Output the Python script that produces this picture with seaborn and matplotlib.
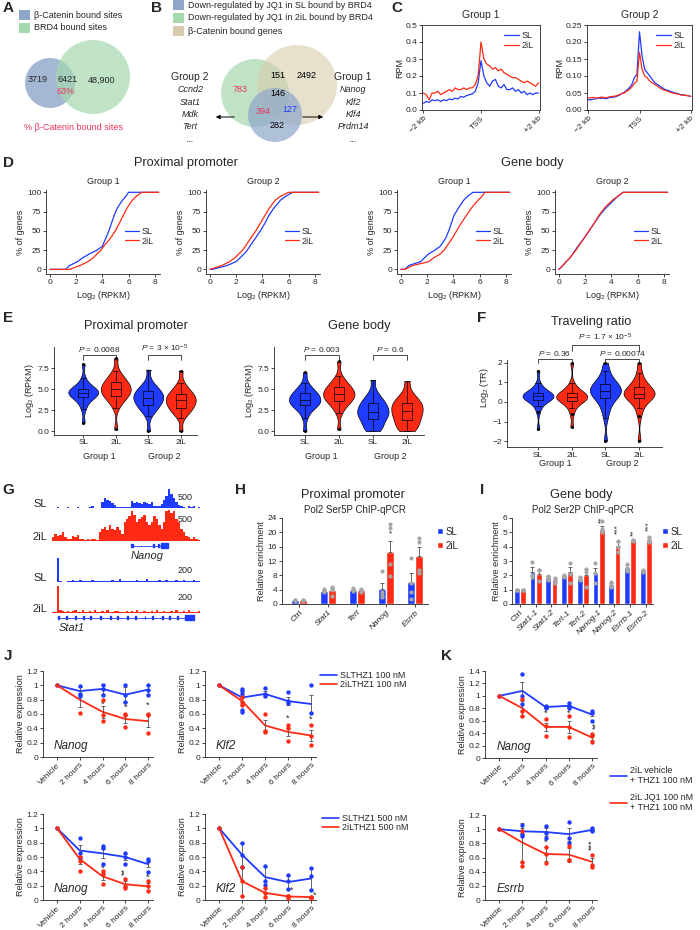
import numpy as np
import pandas as pd
import seaborn as sns
import matplotlib.pyplot as plt
from matplotlib.patches import Circle, Rectangle
from matplotlib.lines import Line2D
from matplotlib.transforms import blended_transform_factory

BLUE = '#1f3bff'
RED = '#ff2a14'
DOT = '#a6a6a6'
PINK = '#e8365d'
VENN_BLUE = '#8ea6ca'
VENN_GREEN = '#a6d8ad'
VENN_TAN = '#d6ccad'
PAL = {'SL': BLUE, '2iL': RED}

# A / B venn counts
venn_a = ['3719', '6421', '48,900']
venn_a_pct = '63%'
venn_b = {'green': '783', 'green_tan': '151', 'tan': '2492', 'all': '146',
          'blue_green': '394', 'blue_tan': '127', 'blue': '282'}
group2_genes = ['Ccnd2', 'Stat1', 'Mdk', 'Tert', '...']
group1_genes = ['Nanog', 'Klf2', 'Klf4', 'Prdm14', '...']

# C metagene profiles (RPM), -2 kb .. +2 kb
c_kb = np.round(np.arange(-2, 2.01, 0.1), 1)
c_g1_sl = [0.04, 0.05, 0.045, 0.06, 0.055, 0.06, 0.05, 0.06, 0.055, 0.065, 0.06, 0.07, 0.065, 0.08,
           0.075, 0.085, 0.09, 0.095, 0.11, 0.16, 0.29, 0.2, 0.16, 0.14, 0.17, 0.18, 0.14, 0.13, 0.15,
           0.12, 0.12, 0.13, 0.11, 0.12, 0.1, 0.11, 0.09, 0.1, 0.09, 0.1, 0.1]
c_g1_2il = [0.1, 0.09, 0.06, 0.1, 0.1, 0.11, 0.09, 0.1, 0.11, 0.12, 0.11, 0.13, 0.12, 0.12, 0.13,
            0.12, 0.13, 0.13, 0.15, 0.2, 0.40, 0.3, 0.27, 0.26, 0.24, 0.25, 0.23, 0.24, 0.22, 0.21,
            0.2, 0.19, 0.19, 0.18, 0.17, 0.16, 0.17, 0.16, 0.15, 0.14, 0.16]
c_g2_sl = [0.03, 0.03, 0.032, 0.033, 0.035, 0.034, 0.035, 0.033, 0.036, 0.037, 0.038, 0.04, 0.043,
           0.048, 0.052, 0.058, 0.065, 0.075, 0.095, 0.105, 0.23, 0.16, 0.12, 0.11, 0.1, 0.09, 0.08,
           0.075, 0.07, 0.065, 0.06, 0.058, 0.055, 0.052, 0.05, 0.048, 0.045, 0.045, 0.043, 0.042, 0.04]
c_g2_2il = [0.035, 0.036, 0.037, 0.035, 0.036, 0.038, 0.037, 0.036, 0.038, 0.04, 0.04, 0.042, 0.045,
            0.048, 0.05, 0.055, 0.06, 0.068, 0.078, 0.085, 0.17, 0.12, 0.1, 0.095, 0.085, 0.08,
            0.075, 0.07, 0.065, 0.06, 0.058, 0.055, 0.052, 0.05, 0.048, 0.047, 0.045, 0.043, 0.043,
            0.042, 0.04]

# D cumulative curves: log2 RPKM reached at each % of genes
cdf_pct = [0, 5, 10, 15, 20, 25, 30, 40, 50, 60, 70, 80, 90, 95, 100]
d_prox_g1_sl = [1.2, 1.5, 2.1, 2.5, 3.0, 3.6, 4.0, 4.25, 4.5, 4.7, 4.9, 5.15, 5.55, 5.8, 6.0]
d_prox_g1_2il = [1.5, 2.3, 2.9, 3.3, 3.6, 3.9, 4.1, 4.6, 5.0, 5.3, 5.6, 5.9, 6.3, 6.6, 7.0]
d_prox_g2_sl = [0.2, 1.3, 2.0, 2.3, 2.6, 2.85, 3.05, 3.45, 3.85, 4.2, 4.5, 4.9, 5.4, 5.8, 6.3]
d_prox_g2_2il = [0.0, 0.9, 1.5, 1.9, 2.2, 2.5, 2.7, 3.1, 3.5, 3.85, 4.2, 4.55, 5.0, 5.4, 6.0]
d_body_g1_sl = [0.3, 0.6, 1.5, 1.8, 2.1, 2.6, 3.0, 3.4, 3.65, 3.85, 4.05, 4.4, 4.8, 5.1, 5.5]
d_body_g1_2il = [0.3, 0.9, 2.1, 2.5, 3.0, 3.3, 3.5, 3.9, 4.25, 4.6, 5.0, 5.4, 5.9, 6.2, 6.4]
d_body_g2_sl = [0.0, 0.3, 0.55, 0.85, 1.05, 1.25, 1.45, 1.9, 2.3, 2.7, 3.1, 3.6, 4.2, 4.5, 4.9]
d_body_g2_2il = [0.0, 0.3, 0.55, 0.85, 1.05, 1.3, 1.5, 1.9, 2.3, 2.7, 3.05, 3.5, 4.1, 4.5, 4.9]

# E / F violins: 5% quantiles of each distribution
e_prox = [
    [1.0, 2.6, 3.2, 3.6, 3.85, 4.0, 4.15, 4.3, 4.4, 4.5, 4.55, 4.65, 4.75, 4.85, 4.95, 5.05, 5.2, 5.4, 5.7, 6.3, 8.0],
    [0.2, 2.8, 3.4, 3.8, 4.0, 4.15, 4.35, 4.55, 4.7, 4.85, 5.0, 5.15, 5.3, 5.45, 5.6, 5.85, 6.05, 6.3, 6.6, 7.1, 8.7],
    [0.0, 1.8, 2.4, 2.7, 2.9, 3.05, 3.3, 3.5, 3.7, 3.8, 3.95, 4.1, 4.25, 4.4, 4.55, 4.75, 4.95, 5.15, 5.4, 5.9, 7.3],
    [0.0, 1.6, 2.1, 2.4, 2.6, 2.75, 2.95, 3.15, 3.35, 3.5, 3.65, 3.8, 3.95, 4.1, 4.25, 4.45, 4.65, 4.9, 5.2, 5.7, 7.2]]
e_body = [
    [0.0, 1.6, 2.3, 2.7, 2.9, 3.05, 3.2, 3.35, 3.5, 3.6, 3.75, 3.9, 4.05, 4.2, 4.35, 4.5, 4.7, 4.9, 5.2, 5.7, 7.0],
    [0.2, 2.2, 2.8, 3.2, 3.45, 3.6, 3.8, 3.95, 4.1, 4.25, 4.4, 4.55, 4.7, 4.85, 5.0, 5.2, 5.4, 5.65, 5.95, 6.5, 8.3],
    [0.0, 0.2, 0.5, 0.8, 1.1, 1.4, 1.6, 1.8, 2.0, 2.15, 2.3, 2.5, 2.7, 2.9, 3.1, 3.3, 3.55, 3.8, 4.15, 4.7, 6.1],
    [0.0, 0.2, 0.5, 0.8, 1.05, 1.3, 1.55, 1.8, 2.0, 2.2, 2.4, 2.6, 2.8, 3.0, 3.2, 3.4, 3.6, 3.85, 4.2, 4.7, 5.9]]
f_tr = [
    [-1.4, -0.5, -0.2, -0.05, 0.05, 0.1, 0.15, 0.2, 0.24, 0.27, 0.29, 0.32, 0.35, 0.38, 0.42, 0.46, 0.52, 0.6, 0.72, 0.95, 1.6],
    [-1.3, -0.6, -0.3, -0.1, 0.0, 0.05, 0.1, 0.15, 0.19, 0.22, 0.25, 0.29, 0.32, 0.36, 0.4, 0.45, 0.52, 0.6, 0.72, 0.95, 2.0],
    [-2.0, -0.8, -0.4, -0.15, 0.05, 0.2, 0.3, 0.38, 0.45, 0.5, 0.55, 0.62, 0.68, 0.75, 0.82, 0.9, 1.0, 1.12, 1.3, 1.6, 2.0],
    [-2.0, -0.7, -0.3, -0.1, 0.1, 0.2, 0.26, 0.31, 0.35, 0.38, 0.42, 0.47, 0.52, 0.58, 0.65, 0.75, 0.85, 0.98, 1.15, 1.45, 2.0]]
violin_pos = ['G1 SL', 'G1 2iL', 'G2 SL', 'G2 2iL']
violin_cond = ['SL', '2iL', 'SL', '2iL']

# G browser tracks (binned signal)
nanog_sl = [12, 10, 15, 8, 12, 10, 14, 10, 8, 12, 15, 10, 12, 8, 10, 14, 60, 10, 8, 12,
            150, 250, 200, 180, 120, 80, 20, 15, 20, 30, 15, 20, 180, 120, 140, 130, 110, 150, 130, 90,
            160, 40, 50, 60, 90, 200, 300, 480, 350, 250, 150, 80, 50, 30, 10, 40, 20, 40, 10, 20]
nanog_2il = [60, 120, 80, 100, 150, 60, 40, 30, 80, 60, 100, 40, 30, 20, 30, 20, 40, 30, 20, 150,
             200, 230, 180, 250, 200, 170, 220, 180, 120, 300, 350, 400, 480, 420, 300, 350, 380, 420, 300, 250,
             300, 400, 350, 250, 200, 300, 480, 500, 450, 480, 350, 300, 200, 150, 80, 60, 40, 60, 30, 20]
stat1_sl = [3, 3, 200, 5, 4, 3, 12, 8, 14, 10, 6, 18, 8, 10, 6, 12, 20, 5, 10, 8,
            6, 12, 5, 8, 15, 10, 6, 25, 8, 5, 10, 12, 8, 6, 20, 10, 6, 8, 22, 6,
            10, 12, 8, 15, 6, 10, 20, 8, 12, 6, 18, 10, 8, 14, 6, 12, 10, 20, 8, 6]
stat1_2il = [4, 5, 190, 20, 12, 8, 15, 10, 12, 18, 8, 10, 22, 8, 6, 12, 10, 18, 6, 10,
             14, 8, 20, 6, 10, 12, 16, 8, 10, 6, 14, 10, 12, 8, 20, 6, 10, 14, 8, 10,
             12, 6, 18, 10, 8, 12, 6, 10, 14, 8, 20, 10, 6, 12, 8, 24, 10, 6, 8, 14]
nanog_span = (31.6, 46.6)
nanog_exons = [(31.5, 0.8), (40.4, 0.6), (42.4, 0.5)]
nanog_utr = [(43.5, 3.1)]
stat1_span = (2.0, 57.0)
stat1_exons = [(x, 0.4) for x in [2, 5, 9, 12, 15, 19, 23, 26, 30, 33, 37, 40, 44, 47, 50]]
stat1_utr = [(53.5, 3.5)]

# H ChIP-qPCR (Pol2 Ser5P)
h_cats = ['Ctrl', 'Stat1', 'Tert', 'Nanog', 'Esrrb']
h_sl = [1.0, 3.7, 4.0, 4.2, 6.2]
h_sl_err = [0.1, 0.3, 0.3, 1.7, 2.5]
h_2il = [1.0, 3.8, 3.8, 14.5, 13.5]
h_2il_err = [0.1, 0.8, 0.3, 3.2, 2.5]
h_sl_reps = [[1.0, 1.0, 0.9], [4.2, 3.6, 3.3], [4.4, 4.0, 3.6], [9.2, 3.4, 2.5, 2.0], [12.8, 5.8, 3.4, 1.4]]
h_2il_reps = [[1.0, 1.0, 0.9], [4.8, 3.8, 2.2], [4.3, 3.7, 3.4], [22.3, 21.2, 11.2, 7.8], [18.4, 17.3, 9.5, 8.6]]
h_stars = [(3, 19.5, '*')]

# I ChIP-qPCR (Pol2 Ser2P)
i_cats = ['Ctrl', 'Stat1-1', 'Stat1-2', 'Tert-1', 'Tert-2', 'Nanog-1', 'Nanog-2', 'Esrrb-1', 'Esrrb-2']
i_sl = [1.0, 2.25, 1.8, 1.95, 1.75, 2.15, 1.35, 2.5, 2.3]
i_sl_err = [0.05, 0.3, 0.15, 0.1, 0.1, 0.35, 0.15, 0.25, 0.1]
i_2il = [1.0, 2.1, 1.65, 2.2, 2.0, 5.15, 4.05, 4.45, 4.5]
i_2il_err = [0.05, 0.3, 0.15, 0.4, 0.45, 0.3, 0.25, 0.05, 0.15]
i_sl_reps = [[1, 1, 1], [2.9, 2.0, 1.9], [1.95, 1.85, 1.7], [2.0, 1.95, 1.9], [1.85, 1.75, 1.65],
             [2.85, 2.15, 1.5], [1.55, 1.35, 1.2], [2.8, 2.5, 2.3], [2.4, 2.3, 2.25]]
i_2il_reps = [[1, 1, 1], [2.4, 2.4, 1.6], [1.8, 1.5, 1.6], [2.85, 2.1, 1.45], [2.45, 2.2, 1.2],
              [5.8, 5.2, 5.0], [4.4, 4.0, 3.6], [4.5, 4.45, 4.4], [4.7, 4.5, 4.35]]
i_stars = [(5, 5.85, '**'), (6, 5.2, '***'), (7, 5.0, '**'), (8, 5.45, '***')]

# J / K time courses (relative expression)
times = ['Vehicle', '2 hours', '4 hours', '6 hours', '8 hours']
j1 = dict(gene='Nanog',
          sl=[1.0, 0.92, 0.95, 0.87, 0.94], sl_err=[0, 0.05, 0.07, 0.1, 0.06],
          sl_reps=[[1.0], [0.99, 0.88, 0.85], [1.0, 0.95, 0.86], [1.0, 0.86, 0.77], [1.0, 0.94, 0.87]],
          il=[1.0, 0.8, 0.63, 0.53, 0.5], il_err=[0, 0.1, 0.08, 0.05, 0.08],
          il_reps=[[1.0], [0.62], [0.8, 0.58, 0.5], [0.6, 0.58, 0.42], [0.6, 0.58, 0.33]],
          stars=[(2, 0.74, '*'), (3, 0.7, '*'), (4, 0.72, '*')])
j2 = dict(gene='Klf2',
          sl=[1.0, 0.83, 0.88, 0.78, 0.74], sl_err=[0, 0.05, 0.04, 0.06, 0.13],
          sl_reps=[[1.0], [0.95, 0.92, 0.88, 0.65, 0.63], [0.96, 0.88, 0.85], [0.91, 0.78, 0.75], [1.0, 0.61]],
          il=[1.0, 0.78, 0.44, 0.35, 0.3], il_err=[0, 0.05, 0.07, 0.06, 0.07],
          il_reps=[[1.0], [0.84, 0.77, 0.72], [0.6, 0.36, 0.35], [0.45, 0.4, 0.22], [0.44, 0.3, 0.17]],
          stars=[(3, 0.54, '*'), (4, 0.52, '*')])
j3 = dict(gene='Nanog',
          sl=[1.0, 0.69, 0.65, 0.6, 0.5], sl_err=[0, 0.08, 0.06, 0.04, 0.04],
          sl_reps=[[1.0], [0.87, 0.65, 0.58], [0.75, 0.72, 0.5], [0.66, 0.6, 0.5], [0.57, 0.55, 0.39]],
          il=[1.0, 0.57, 0.33, 0.22, 0.19], il_err=[0, 0.07, 0.05, 0.04, 0.05],
          il_reps=[[1.0], [0.6, 0.55, 0.41], [0.4, 0.36, 0.22], [0.29, 0.2, 0.17], [0.26, 0.19, 0.12]],
          stars=[(2, 0.44, '*'), (3, 0.4, '**'), (4, 0.32, '*')])
j4 = dict(gene='Klf2',
          sl=[1.0, 0.63, 0.32, 0.25, 0.3], sl_err=[0, 0.17, 0.15, 0.1, 0.15],
          sl_reps=[[1.0], [0.8, 0.63, 0.46], [0.47, 0.27, 0.21], [0.35, 0.26, 0.16], [0.45, 0.33, 0.14]],
          il=[1.0, 0.26, 0.1, 0.05, 0.04], il_err=[0, 0.2, 0.07, 0.01, 0.01],
          il_reps=[[1.0], [0.46, 0.26, 0.06], [0.17, 0.1, 0.04], [0.06, 0.05, 0.03], [0.04, 0.04, 0.03]],
          stars=[(3.15, 0.13, '*'), (4.15, 0.07, '*')])
k1 = dict(gene='Nanog',
          sl=[1.0, 1.08, 0.82, 0.84, 0.7], sl_err=[0, 0.14, 0.01, 0.02, 0.03],
          sl_reps=[[1.0], [1.35, 1.0, 0.87], [0.83, 0.82, 0.8], [0.88, 0.84, 0.8], [0.76, 0.73, 0.6]],
          il=[1.0, 0.8, 0.5, 0.5, 0.33], il_err=[0, 0.12, 0.07, 0.1, 0.04],
          il_reps=[[1.0], [0.95, 0.75, 0.67], [0.63, 0.52, 0.35], [0.67, 0.5, 0.34], [0.38, 0.35, 0.26]],
          stars=[(2, 0.72, '*'), (3, 0.72, '*'), (4.2, 0.52, '**')])
k2 = dict(gene='Esrrb',
          sl=[1.0, 0.97, 0.96, 0.93, 0.99], sl_err=[0, 0.04, 0.05, 0.09, 0.02],
          sl_reps=[[1.0], [1.06, 0.93, 0.9], [1.05, 0.95, 0.88], [1.1, 0.88, 0.8], [1.01, 0.99, 0.97]],
          il=[1.0, 0.81, 0.65, 0.64, 0.54], il_err=[0, 0.28, 0.1, 0.1, 0.05],
          il_reps=[[1.0], [0.97, 0.53, 0.48], [0.75, 0.65, 0.52], [0.76, 0.57, 0.56], [0.63, 0.5, 0.47]],
          stars=[(2, 0.82, '*'), (4, 0.78, '***')])

sns.set_style('ticks')
plt.rcParams['font.family'] = ['Liberation Sans', 'DejaVu Sans']
plt.rcParams.update({
    'font.size': 6, 'axes.linewidth': 0.6, 'axes.facecolor': 'none',
    'xtick.major.size': 2, 'ytick.major.size': 2, 'xtick.major.width': 0.6, 'ytick.major.width': 0.6,
    'xtick.major.pad': 1.5, 'ytick.major.pad': 1.5, 'xtick.labelsize': 6, 'ytick.labelsize': 6,
    'axes.labelsize': 6.5, 'axes.labelpad': 2,
    'mathtext.fontset': 'custom', 'mathtext.rm': 'Liberation Sans',
    'mathtext.it': 'Liberation Sans:italic', 'mathtext.default': 'regular'})

W, H = 700, 930
fig = plt.figure(figsize=(7, 9.3), dpi=100)
ov = fig.add_axes([0, 0, 1, 1])
ov.set_xlim(0, W)
ov.set_ylim(H, 0)
ov.axis('off')


def add_ax(l, t, r, b):
    return fig.add_axes([l / W, 1 - b / H, (r - l) / W, (b - t) / H])


def txt(x, y, s, **kw):
    kw.setdefault('ha', 'center')
    kw.setdefault('va', 'center')
    ov.text(x, y, s, **kw)


def despine(ax):
    ax.spines['top'].set_visible(False)
    ax.spines['right'].set_visible(False)


for letter, x, y in [('A', 8, 8), ('B', 157, 8), ('C', 397, 8), ('D', 8, 163), ('E', 8, 318),
                     ('F', 482, 318), ('G', 8, 490), ('H', 240, 490), ('I', 482, 490),
                     ('J', 8, 656), ('K', 447, 656)]:
    txt(x, y, letter, fontsize=11, fontweight='bold')

# ---- A
for y, col, lab in [(15, VENN_BLUE, 'β-Catenin bound sites'), (28, VENN_GREEN, 'BRD4 bound sites')]:
    ov.add_patch(Rectangle((19, y - 5), 11, 10, fc=col, ec='none'))
    txt(34, y, lab, ha='left', fontsize=6.5)
ov.add_patch(Circle((50, 83), 25, fc=VENN_BLUE, ec='none', alpha=0.8))
ov.add_patch(Circle((93, 77), 37, fc=VENN_GREEN, ec='none', alpha=0.7))
txt(38, 80, venn_a[0], fontsize=6.5)
txt(68, 80, venn_a[1], fontsize=6.5)
txt(102, 80, venn_a[2], fontsize=6.5)
txt(66, 91, venn_a_pct, fontsize=6.5, color=PINK)
txt(73, 128, '% β-Catenin bound sites', fontsize=6.5, color=PINK)

# ---- B
for y, col, lab in [(5, VENN_BLUE, 'Down-regulated by JQ1 in SL bound by BRD4'),
                    (18, VENN_GREEN, 'Down-regulated by JQ1 in 2iL bound by BRD4'),
                    (31, VENN_TAN, 'β-Catenin bound genes')]:
    ov.add_patch(Rectangle((173, y - 5), 11, 10, fc=col, ec='none'))
    txt(188, y, lab, ha='left', fontsize=6.5)
ov.add_patch(Circle((255, 93), 34, fc=VENN_GREEN, ec='none', alpha=0.7))
ov.add_patch(Circle((297, 85), 40, fc=VENN_TAN, ec='none', alpha=0.6))
ov.add_patch(Circle((275, 115), 27, fc=VENN_BLUE, ec='none', alpha=0.7))
for key, x, y, col in [('green', 240, 90, PINK), ('green_tan', 278, 75, 'black'), ('tan', 307, 76, 'black'),
                       ('all', 278, 94, 'black'), ('blue_green', 263, 112, PINK),
                       ('blue_tan', 290, 109, BLUE), ('blue', 277, 126, 'black')]:
    txt(x, y, venn_b[key], fontsize=6.5, color=col)
ov.annotate('', xy=(213, 117), xytext=(237, 117), arrowprops=dict(arrowstyle='-|>', lw=0.7, color='k', mutation_scale=6))
ov.annotate('', xy=(326, 117), xytext=(300, 117), arrowprops=dict(arrowstyle='-|>', lw=0.7, color='k', mutation_scale=6))
txt(190, 77, 'Group 2', fontsize=7.5)
txt(353, 77, 'Group 1', fontsize=7.5)
for k, (g2, g1) in enumerate(zip(group2_genes, group1_genes)):
    txt(190, 90 + 12.3 * k, g2, fontsize=6.5, style='italic')
    txt(353, 90 + 12.3 * k, g1, fontsize=6.5, style='italic')

# ---- C
for (l, r), sl, il, ymax, step, title in [((422, 540), c_g1_sl, c_g1_2il, 0.5, 0.1, 'Group 1'),
                                           ((587, 692), c_g2_sl, c_g2_2il, 0.25, 0.05, 'Group 2')]:
    ax = add_ax(l, 25, r, 110)
    df = pd.DataFrame({'kb': list(c_kb) * 2, 'rpm': sl + il, 'cond': ['SL'] * len(c_kb) + ['2iL'] * len(c_kb)})
    sns.lineplot(data=df, x='kb', y='rpm', hue='cond', hue_order=['SL', '2iL'], palette=PAL,
                 lw=0.9, estimator=None, ax=ax)
    ax.set_xlim(-2.05, 2.05)
    ax.set_ylim(0, ymax)
    ax.set_yticks(np.round(np.arange(0, ymax + 1e-9, step), 2))
    ax.set_yticklabels(['%.1f' % v if step == 0.1 else '%.2f' % v for v in ax.get_yticks()])
    ax.set_xticks([-2, 0, 2])
    ax.set_xticklabels(['−2 kb', 'TSS', '+2 kb'], rotation=45, ha='right', rotation_mode='anchor')
    ax.set_xlabel('')
    ax.set_ylabel('RPM', labelpad=1)
    ax.legend(loc='upper right', frameon=False, fontsize=6.5, handlelength=1.6, borderaxespad=0.3,
              labelspacing=0.1, handletextpad=0.3, title=None)
    txt((l + r) / 2, 15, title, fontsize=7.5)

# ---- D
txt(186, 163, 'Proximal promoter', fontsize=9.2)
txt(532, 163, 'Gene body', fontsize=9.2)
d_sets = [(46, d_prox_g1_sl, d_prox_g1_2il, 'Group 1'), (206, d_prox_g2_sl, d_prox_g2_2il, 'Group 2'),
          (397, d_body_g1_sl, d_body_g1_2il, 'Group 1'), (555, d_body_g2_sl, d_body_g2_2il, 'Group 2')]
for l, sl, il, title in d_sets:
    ax = add_ax(l, 190, l + 114, 274)
    n = len(cdf_pct) + 2
    df = pd.DataFrame({'x': [0] + sl + [8.3] + [0] + il + [8.3],
                       'y': ([0] + cdf_pct + [100]) * 2,
                       'cond': ['SL'] * n + ['2iL'] * n})
    sns.lineplot(data=df, x='x', y='y', hue='cond', hue_order=['SL', '2iL'], palette=PAL,
                 sort=False, estimator=None, lw=0.9, ax=ax)
    ax.set_xlim(-0.3, 8.4)
    ax.set_ylim(-6, 103)
    ax.set_xticks([0, 2, 4, 6, 8])
    ax.set_yticks([0, 25, 50, 75, 100])
    ax.set_xlabel('Log$_2$ (RPKM)')
    ax.set_ylabel('% of genes', labelpad=1)
    despine(ax)
    ax.legend(loc='center right', bbox_to_anchor=(1.02, 0.45), frameon=False, fontsize=6.5,
              handlelength=1.6, labelspacing=0.1, handletextpad=0.3, title=None)
    ax.set_title(title, fontsize=6.5, pad=4)


# ---- E / F
def violin_panel(ax, samples, pad):
    rows = [(p, c, v) for p, c, vals in zip(violin_pos, violin_cond, samples) for v in vals]
    df = pd.DataFrame(rows, columns=['pos', 'cond', 'val'])
    sns.violinplot(data=df, x='pos', y='val', hue='cond', order=violin_pos, hue_order=['SL', '2iL'],
                   palette=PAL, dodge=False, cut=0, inner=None, density_norm='width', width=0.92,
                   linewidth=0.5, linecolor='black', bw_adjust=0.7, legend=False, saturation=1, ax=ax)
    sns.boxplot(data=df, x='pos', y='val', order=violin_pos, width=0.3, fill=False, color='black',
                linewidth=0.5, fliersize=1.2, flierprops={'marker': 'o', 'markerfacecolor': 'black'}, ax=ax)
    ax.set_xticks(range(4))
    ax.set_xticklabels(['SL', '2iL', 'SL', '2iL'])
    ax.set_xlabel('')
    despine(ax)
    tr = blended_transform_factory(ax.transData, ax.transAxes)
    ax.text(0.5, pad, 'Group 1', transform=tr, ha='center', va='top', fontsize=6.5)
    ax.text(2.5, pad, 'Group 2', transform=tr, ha='center', va='top', fontsize=6.5)


def bracket(ax, x1, x2, y, h, label):
    ax.plot([x1, x1, x2, x2], [y - h, y, y, y - h], lw=0.5, color='black')
    ax.text((x1 + x2) / 2, y + h * 0.3, label, ha='center', va='bottom', fontsize=6)


for l, r, samples, title, p1, p2 in [(54, 197, e_prox, 'Proximal promoter',
                                      r'$\mathit{P}$ = 0.0068', r'$\mathit{P}$ = 3 × 10$^{-5}$'),
                                     (274, 424, e_body, 'Gene body',
                                      r'$\mathit{P}$ = 0.003', r'$\mathit{P}$ = 0.6')]:
    ax = add_ax(l, 347, r, 434.5)
    violin_panel(ax, samples, -0.2)
    ax.set_xlim(-0.9, 3.5)
    ax.set_ylim(-0.4, 10)
    ax.set_yticks([0, 2.5, 5, 7.5])
    ax.set_yticklabels(['0.0', '2.5', '5.0', '7.5'])
    ax.set_ylabel('Log$_2$ (RPKM)', labelpad=1)
    bracket(ax, 0, 1, 9.0, 0.5, p1)
    bracket(ax, 2, 3, 9.0, 0.5, p2)
    txt((l + r) / 2 + 10, 326, title, fontsize=9.2)

ax = add_ax(507, 329, 662, 447)
violin_panel(ax, f_tr, -0.1)
ax.set_xlim(-0.92, 3.68)
ax.set_ylim(-2.3, 3.72)
ax.set_yticks([-2, -1, 0, 1, 2])
ax.spines['left'].set_bounds(-2.3, 2.15)
ax.set_ylabel('Log$_2$ (TR)', labelpad=1)
bracket(ax, 0, 1, 2.2, 0.2, r'$\mathit{P}$ = 0.36')
bracket(ax, 2, 3, 2.2, 0.2, r'$\mathit{P}$ = 0.00074')
bracket(ax, 1, 3, 2.9, 0.3, r'$\mathit{P}$ = 1.7 × 10$^{-5}$')
txt(591, 322, 'Traveling ratio', fontsize=9.2)

# ---- G
for (t, b), vals, col, lab, scale in [((488, 508), nanog_sl, BLUE, 'SL', 500),
                                      ((510, 541), nanog_2il, RED, '2iL', 500),
                                      ((558, 582), stat1_sl, BLUE, 'SL', 200),
                                      ((585, 613), stat1_2il, RED, '2iL', 200)]:
    ax = add_ax(52, t, 200, b)
    ax.bar(range(len(vals)), vals, width=1.0, color=col, linewidth=0)
    ax.axhline(scale * 0.01, color=col, lw=0.5)
    ax.set_xlim(-0.5, 59.5)
    ax.set_ylim(0, scale)
    ax.axis('off')
    txt(47, b - 4, lab, ha='right', fontsize=8)
    txt(178, t + 9 if scale == 500 else t + 12, str(scale), ha='left', fontsize=6.5)

for (t, b), span, exons, utr, name, nx in [((542, 549), nanog_span, nanog_exons, nanog_utr, 'Nanog', 147),
                                           ((614, 621), stat1_span, stat1_exons, stat1_utr, 'Stat1', 72)]:
    ax = add_ax(52, t, 200, b)
    ax.plot(span, [0, 0], color=BLUE, lw=0.6)
    ax.broken_barh(exons, (-0.45, 0.9), color=BLUE)
    ax.broken_barh(utr, (-0.8, 1.6), color=BLUE)
    ax.set_xlim(-0.5, 59.5)
    ax.set_ylim(-1, 1)
    ax.axis('off')
    txt(nx, b + 7, name, fontsize=8, style='italic')


# ---- H / I
def bar_panel(ax, cats, sl, sl_err, il, il_err, sl_reps, il_reps, stars, width, rot_stars):
    n = len(cats)
    df = pd.DataFrame({'cat': cats * 2, 'cond': ['SL'] * n + ['2iL'] * n, 'val': sl + il})
    sns.barplot(data=df, x='cat', y='val', hue='cond', hue_order=['SL', '2iL'], palette=PAL, order=cats,
                width=width, gap=0.08, errorbar=None, legend=False, saturation=1, ax=ax)
    off = width / 4
    xs = np.arange(n)
    for dx, m, e, reps in [(-off, sl, sl_err, sl_reps), (off, il, il_err, il_reps)]:
        ax.errorbar(xs + dx, m, yerr=[[0] * n, e], fmt='none', ecolor='0.3', elinewidth=0.6,
                    capsize=1.5, capthick=0.6, zorder=3)
        rx = [i + dx for i, r in enumerate(reps) for _ in r]
        ry = [v for r in reps for v in r]
        sns.scatterplot(x=rx, y=ry, color=DOT, s=9, linewidth=0, ax=ax, zorder=4)
    for i, y, s in stars:
        ax.text(i + off, y, s, ha='center', va='center', fontsize=6, rotation=90 if rot_stars else 0)
    ax.set_xlabel('')
    ax.set_ylabel('Relative enrichment', labelpad=1)
    ax.set_xticks(xs)
    ax.set_xticklabels(cats, rotation=45, ha='right', rotation_mode='anchor')
    for lab in ax.get_xticklabels():
        if lab.get_text() != 'Ctrl':
            lab.set_style('italic')
    despine(ax)
    ax.legend(handles=[Rectangle((0, 0), 1, 1, fc=BLUE), Rectangle((0, 0), 1, 1, fc=RED)],
              labels=['SL', '2iL'], loc='upper left', bbox_to_anchor=(1.0, 1.0), frameon=False,
              fontsize=7, handlelength=0.6, handleheight=0.6, handletextpad=0.3, labelspacing=0.4)


ax = add_ax(282, 518, 428, 604)
bar_panel(ax, h_cats, h_sl, h_sl_err, h_2il, h_2il_err, h_sl_reps, h_2il_reps, h_stars, 0.6, False)
ax.set_xlim(-0.59, 4.45)
ax.set_ylim(0, 24)
ax.set_yticks(range(0, 25, 4))
txt(353, 495, 'Proximal promoter', fontsize=9.2)
txt(355, 510, 'Pol2 Ser5P ChIP-qPCR', fontsize=7)

ax = add_ax(512, 518, 653, 604)
bar_panel(ax, i_cats, i_sl, i_sl_err, i_2il, i_2il_err, i_sl_reps, i_2il_reps, i_stars, 0.8, True)
ax.set_xlim(-0.5, 8.45)
ax.set_ylim(0, 6)
ax.set_yticks(range(7))
txt(581, 495, 'Gene body', fontsize=9.2)
txt(583, 510, 'Pol2 Ser2P ChIP-qPCR', fontsize=7)


# ---- J / K
def time_panel(ax, d, ymax):
    x = np.arange(len(times))
    for key, col in [('sl', BLUE), ('il', RED)]:
        sns.lineplot(x=x, y=d[key], color=col, lw=1.3, ax=ax)
        ax.errorbar(x, d[key], yerr=d[key + '_err'], fmt='none', ecolor='0.3', elinewidth=0.6,
                    capsize=1.5, capthick=0.6, zorder=3)
        rx = [i for i, r in enumerate(d[key + '_reps']) for _ in r]
        ry = [v for r in d[key + '_reps'] for v in r]
        sns.scatterplot(x=rx, y=ry, color=col, s=10, linewidth=0, ax=ax, zorder=4)
    for i, y, s in d['stars']:
        ax.text(i, y, s, ha='center', va='center', fontsize=6.5, rotation=90 if len(s) > 1 else 0)
    ax.set_xlim(-0.62, 4.22)
    ax.set_ylim(0, ymax)
    ax.set_yticks(np.round(np.arange(0, ymax + 1e-9, 0.2), 1))
    ax.set_yticklabels(['%g' % v for v in ax.get_yticks()])
    ax.set_xticks(x)
    ax.set_xticklabels(times, rotation=45, ha='right', rotation_mode='anchor')
    ax.set_ylabel('Relative expression', labelpad=1)
    ax.text(0.1, 0.13, d['gene'], transform=ax.transAxes, fontsize=8.5, style='italic', va='center')
    despine(ax)


def side_legend(ax, x, y, labels, spacing):
    ax.legend(handles=[Line2D([], [], color=BLUE, lw=1.2), Line2D([], [], color=RED, lw=1.2)],
              labels=labels, loc='upper left', bbox_to_anchor=(x / W, 1 - y / H),
              bbox_transform=fig.transFigure, frameon=False, fontsize=6.5, handlelength=1.9,
              borderaxespad=0, borderpad=0, labelspacing=spacing, handletextpad=0.3)


for (l, r, t, b), d in [((43, 153, 671, 757), j1), ((205, 316, 671, 757), j2),
                        ((43, 153, 814, 900), j3), ((205, 316, 814, 900), j4)]:
    ax = add_ax(l, t, r, b)
    time_panel(ax, d, 1.2)
    if d is j2:
        side_legend(ax, 320, 671, ['SLTHZ1 100 nM', '2iLTHZ1 100 nM'], 0.05)
    if d is j4:
        side_legend(ax, 322, 814, ['SLTHZ1 500 nM', '2iLTHZ1 500 nM'], 0.05)

ax = add_ax(485, 671, 597, 758)
time_panel(ax, k1, 1.4)
side_legend(ax, 610, 766, ['2iL vehicle\n+ THZ1 100 nM', '2iL JQ1 100 nM\n+ THZ1 100 nM'], 0.8)
ax = add_ax(485, 815, 597, 900)
time_panel(ax, k2, 1.2)

fig.savefig('out.png', dpi=100)
